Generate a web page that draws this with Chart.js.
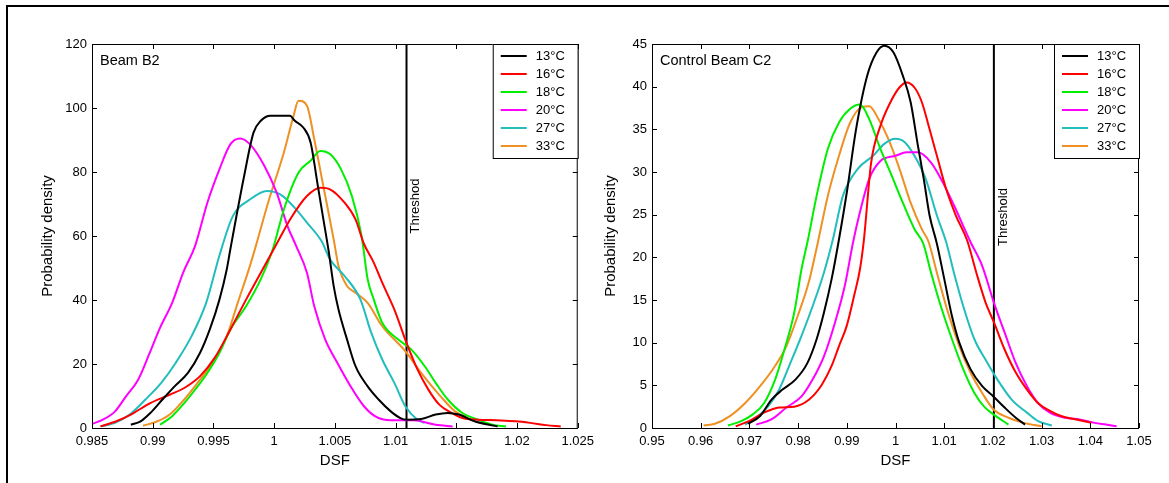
<!DOCTYPE html>
<html>
<head>
<meta charset="utf-8">
<title>DSF probability density</title>
<script src="https://cdn.jsdelivr.net/npm/chart.js@4.4.1/dist/chart.umd.min.js"></script>
<style>
  html, body { margin: 0; padding: 0; background: #fff; }
  #page { position: relative; width: 1169px; height: 483px; overflow: hidden; }
  #frame { position: absolute; left: 6px; top: 5px; width: 1200px; height: 500px;
           border-left: 2px solid #000; border-top: 2px solid #000; }
  #c1 { position: absolute; left: 0; top: 0; }
  #c2 { position: absolute; left: 600px; top: 0; }
</style>
</head>
<body>
<div id="page">
  <div id="frame"></div>
  <canvas id="c1" width="600" height="483"></canvas>
  <canvas id="c2" width="569" height="483"></canvas>
</div>
<script>
// series labels and colours
var temps = ['13°C', '16°C', '18°C', '20°C', '27°C', '33°C'];
var colors = ['#000000', '#ff0000', '#00ee00', '#ff00ff', '#22bdbd', '#ee9022'];

// ---- Beam B2 : [DSF, density] ----
var b2_13 = [[0.9882,1.0],[0.9890,2.1],[0.9898,4.7],[0.9908,8.9],[0.9918,13],[0.9929,17.2],[0.9939,23.5],[0.9947,30.8],[0.9955,40.2],[0.9961,49.6],[0.9964,56],[0.9975,78.2],[0.9983,92.3],[0.9989,96],[0.9997,97.6],[1.0013,97.6],[1.0017,96],[1.0024,93.9],[1.0030,89.2],[1.0036,75.6],[1.0041,64.2],[1.0045,55],[1.0049,44.4],[1.0053,37],[1.0060,27.7],[1.0067,19.3],[1.0077,13],[1.0086,8.9],[1.0096,5.2],[1.0104,3.1],[1.0109,2.6],[1.0121,2.8],[1.0133,4.2],[1.0143,4.7],[1.0152,4.2],[1.0165,2.1],[1.0177,1.0],[1.0184,0.5]];
var b2_16 = [[0.9857,0.5],[0.9870,2.1],[0.9882,4.2],[0.9898,7.8],[0.9914,10.4],[0.9926,12.5],[0.9939,16.2],[0.9951,21.9],[0.9964,30.8],[0.9977,40.2],[0.9989,48.5],[1.0002,57.5],[1.0014,65.7],[1.0027,72.5],[1.0038,75.1],[1.0046,74.6],[1.0058,70.4],[1.0067,65.2],[1.0074,57.5],[1.0082,51.7],[1.0089,45.4],[1.0099,37],[1.0109,26.6],[1.0118,18.3],[1.0127,12],[1.0136,7.3],[1.0146,4.7],[1.0155,3.1],[1.0168,2.6],[1.0183,2.4],[1.0199,2.1],[1.0211,1.6],[1.0224,0.9],[1.0236,0.5]];
var b2_18 = [[0.9906,1.0],[0.9916,3.7],[0.9926,7.8],[0.9936,12.5],[0.9945,17.2],[0.9955,23.5],[0.9964,30.8],[0.9977,38.1],[0.9989,46.5],[0.9999,56],[1.0008,68.3],[1.0020,79.8],[1.0030,83.5],[1.0038,86.6],[1.0046,85.6],[1.0055,80.9],[1.0064,72.5],[1.0072,60],[1.0077,46.5],[1.0082,40.2],[1.0089,32.9],[1.0102,27.7],[1.0113,24.5],[1.0124,19.3],[1.0133,14.1],[1.0143,8.9],[1.0155,4.7],[1.0168,2.6],[1.0180,1.0],[1.0191,0.5]];
var b2_20 = [[0.9850,1.3],[0.9859,2.6],[0.9869,5.2],[0.9878,9.9],[0.9888,15.1],[0.9897,23],[0.9906,31.3],[0.9916,39.1],[0.9925,48.5],[0.9935,57],[0.9945,70.4],[0.9955,80.9],[0.9964,88.7],[0.9972,90.5],[0.9980,88.7],[0.9992,81.9],[1.0002,73.6],[1.0011,63.1],[1.0018,57],[1.0027,48.5],[1.0033,38.1],[1.0042,27.7],[1.0052,20.4],[1.0063,13],[1.0074,6.8],[1.0083,3.7],[1.0096,2.4],[1.0115,2.4],[1.0133,1.0],[1.0147,0.5]];
var b2_27 = [[0.9857,0.5],[0.9869,1.6],[0.9881,4.2],[0.9894,8.9],[0.9907,14.1],[0.9919,20.4],[0.9932,28.7],[0.9944,39.1],[0.9955,54],[0.9966,66.2],[0.9980,71.4],[0.9994,74.1],[1.0005,73],[1.0017,68.8],[1.0027,64.2],[1.0039,58.4],[1.0046,52.7],[1.0058,47.5],[1.0071,40.2],[1.0080,29.7],[1.0089,21.4],[1.0099,14.1],[1.0108,6.8],[1.0118,2.6],[1.0124,1.6]];
var b2_33 = [[0.9892,0.7],[0.9904,2.1],[0.9914,4.2],[0.9926,8.9],[0.9939,15.1],[0.9951,21.4],[0.9961,28.7],[0.9970,39.1],[0.9980,50.6],[0.9985,57],[0.9995,70.4],[1.0008,86.1],[1.0016,97.6],[1.0020,102.3],[1.0027,100.7],[1.0033,90.3],[1.0041,74.6],[1.0049,59],[1.0053,50.6],[1.0060,44.4],[1.0067,42.3],[1.0077,39.1],[1.0089,31.8],[1.0108,24],[1.0121,17.2],[1.0137,9.9],[1.0149,5.2],[1.0162,2.6]];

// ---- Control Beam C2 ----
var c2_13 = [[0.9697,0.5],[0.9722,1.4],[0.9745,3.3],[0.9768,4.5],[0.9795,5.7],[0.9819,7.6],[0.9838,10.4],[0.9853,13.5],[0.9869,17.5],[0.9883,21.8],[0.9900,27.6],[0.9919,35],[0.9942,41.3],[0.9961,44],[0.9977,44.8],[0.9996,44],[1.0015,41.3],[1.0031,38.2],[1.0046,33.1],[1.0058,29.2],[1.0070,24.9],[1.0085,21.6],[1.0100,17.5],[1.0116,13.1],[1.0131,10],[1.0154,6.9],[1.0178,4.9],[1.0201,3.7],[1.0224,2.4],[1.0247,1.2],[1.0266,0.4]];
var c2_16 = [[0.9672,0.2],[0.9699,0.8],[0.9730,1.8],[0.9761,2.4],[0.9792,2.5],[0.9822,3.3],[0.9849,5.1],[0.9869,7.3],[0.9884,9.6],[0.9900,12],[0.9915,15.5],[0.9927,18.6],[0.9935,22],[0.9950,31.1],[0.9969,35.4],[0.9988,38],[1.0008,39.9],[1.0023,40.5],[1.0039,39.9],[1.0054,38.2],[1.0070,35],[1.0085,31.9],[1.0104,28],[1.0124,24.9],[1.0147,22],[1.0166,18.2],[1.0185,14.7],[1.0202,12.4],[1.0224,9.2],[1.0247,6.5],[1.0270,4.5],[1.0293,2.9],[1.0317,2],[1.0340,1.4],[1.0371,1.0],[1.0402,0.6]];
var c2_18 = [[0.9656,0.3],[0.9683,0.8],[0.9707,1.6],[0.9730,2.9],[0.9753,5.7],[0.9772,9.2],[0.9792,13.5],[0.9807,18.6],[0.9820,22],[0.9838,27.2],[0.9861,32.7],[0.9884,35.8],[0.9907,37.4],[0.9927,37.9],[0.9946,36.2],[0.9969,32.7],[0.9992,29.6],[1.0015,26.4],[1.0039,23.3],[1.0057,21.6],[1.0073,18.2],[1.0093,14.3],[1.0116,10.4],[1.0139,6.9],[1.0162,4.1],[1.0182,2.5],[1.0201,1.6],[1.0232,0.4]];
var c2_20 = [[0.9714,0.4],[0.9745,1],[0.9776,2.4],[0.9807,3.7],[0.9830,5.7],[0.9853,8.4],[0.9876,12.4],[0.9896,16.7],[0.9913,21.8],[0.9927,25.3],[0.9946,29.2],[0.9969,31.3],[1.0000,31.9],[1.0023,32.3],[1.0046,32.3],[1.0073,31.1],[1.0097,28.8],[1.0120,26.1],[1.0154,21.8],[1.0178,19],[1.0202,14.7],[1.0224,11.2],[1.0247,7.6],[1.0270,4.9],[1.0293,2.9],[1.0317,1.8],[1.0348,1.2],[1.0378,1],[1.0409,0.6],[1.0432,0.4],[1.0454,0.2]];
var c2_27 = [[0.9691,0.4],[0.9714,1.2],[0.9738,2.5],[0.9761,4.5],[0.9784,7.6],[0.9807,10.8],[0.9830,14.3],[0.9853,18.2],[0.9871,22],[0.9892,27.2],[0.9923,30.4],[0.9954,31.9],[0.9977,33.3],[1.0000,33.9],[1.0019,33.5],[1.0039,31.9],[1.0062,29.2],[1.0085,24.9],[1.0104,21.8],[1.0120,18.2],[1.0139,14.3],[1.0162,10.4],[1.0185,8],[1.0209,5.7],[1.0239,3.3],[1.0270,1.8],[1.0293,0.8],[1.0321,0.3]];
var c2_33 = [[0.9606,0.3],[0.9629,0.5],[0.9660,1.4],[0.9691,2.9],[0.9722,4.9],[0.9753,7.3],[0.9776,9.6],[0.9799,13.1],[0.9822,17.1],[0.9840,21.6],[0.9861,27.2],[0.9884,31.9],[0.9907,35.8],[0.9931,37.6],[0.9946,37.7],[0.9965,36.2],[0.9985,33.9],[1.0008,30.4],[1.0031,26.4],[1.0054,23.3],[1.0068,21.8],[1.0085,18.2],[1.0108,13.5],[1.0131,9.6],[1.0154,6.5],[1.0178,4.1],[1.0201,2.2],[1.0232,1.2],[1.0263,0.6],[1.0300,0.2]];

// thresholds (DSF) and axis ranges
var b2_threshold = 1.0109;
var c2_threshold = 1.0202;
var b2_xticks = [0.985, 1.025, 0.005];
var b2_yticks = [0, 120, 20];
var c2_xticks = [0.95, 1.05, 0.01];
var c2_yticks = [0, 45, 5];

var FONT = '"Liberation Sans", Arial, sans-serif';
Chart.defaults.font.family = FONT;
Chart.defaults.font.size = 13;
Chart.defaults.color = '#000';

/**
 * Draws the MATLAB-like axes box, inward ticks, legend box and text labels.
 */
var extras = {
  id: 'extras',
  afterDatasetsDraw: function(chart, args, o) {
    var ctx = chart.ctx;
    var a = chart.chartArea;
    var xs = chart.scales.x, ys = chart.scales.y;
    var TL = 5;
    ctx.save();
    ctx.strokeStyle = '#000';
    ctx.lineWidth = 1;
    ctx.strokeRect(a.left + 0.5, a.top + 0.5, a.right - a.left - 1, a.bottom - a.top);
    ctx.beginPath();
    xs.ticks.forEach(function(t) {
      var px = Math.round(xs.getPixelForValue(t.value)) + 0.5;
      ctx.moveTo(px, a.bottom); ctx.lineTo(px, a.bottom - TL);
      ctx.moveTo(px, a.top); ctx.lineTo(px, a.top + TL);
    });
    ys.ticks.forEach(function(t) {
      var py = Math.round(ys.getPixelForValue(t.value)) + 0.5;
      ctx.moveTo(a.left, py); ctx.lineTo(a.left + TL, py);
      ctx.moveTo(a.right, py); ctx.lineTo(a.right - TL, py);
    });
    ctx.stroke();

    ctx.fillStyle = '#000';

    // panel label
    ctx.font = '14.5px ' + FONT;
    ctx.textAlign = 'left';
    ctx.textBaseline = 'middle';
    ctx.fillText(o.label, a.left + 8, a.top + 17);

    // threshold text, rotated
    ctx.font = '13px ' + FONT;
    var tx = xs.getPixelForValue(o.threshold);
    ctx.save();
    ctx.translate(tx + o.textDx, o.textY);
    ctx.rotate(-Math.PI / 2);
    ctx.textAlign = 'center';
    ctx.fillText(o.thresholdText, 0, 0);
    ctx.restore();

    // legend
    var lw = 85, lh = 114;
    var lx = a.right - lw, ly = a.top;
    ctx.fillStyle = '#fff';
    ctx.fillRect(lx, ly, lw, lh);
    ctx.strokeRect(lx + 0.5, ly + 0.5, lw, lh);
    for (var i = 0; i < temps.length; i++) {
      var ds = chart.data.datasets[i];
      var yy = ly + 12 + i * 18;
      ctx.strokeStyle = ds.borderColor;
      ctx.lineWidth = 2;
      ctx.beginPath();
      ctx.moveTo(lx + 8, yy); ctx.lineTo(lx + 34, yy);
      ctx.stroke();
      ctx.fillStyle = '#000';
      ctx.textAlign = 'left';
      ctx.fillText(ds.label, lx + 43, yy);
    }
    ctx.restore();
  }
};

function makeChart(id, series, threshold, xr, yr, yAxisW, rightPad, yTitlePad, ex) {
  var datasets = [];
  for (let i = 0; i < series.length; i++) {
    datasets.push({
      label: temps[i],
      data: series[i].map(function(p) { return {x: p[0], y: p[1]}; }),
      borderColor: colors[i],
      borderWidth: 2,
      pointRadius: 0,
      fill: false,
      cubicInterpolationMode: 'monotone'
    });
  }
  // vertical threshold line
  datasets.push({
    label: 'Threshold',
    data: [{x: threshold, y: yr[0]}, {x: threshold, y: yr[1]}],
    borderColor: '#000',
    borderWidth: 2,
    pointRadius: 0,
    fill: false
  });
  ex.threshold = threshold;

  return new Chart(document.getElementById(id), {
    type: 'line',
    data: {datasets: datasets},
    options: {
      responsive: false,
      animation: false,
      events: [],
      layout: {padding: {top: 44, right: rightPad, left: 0, bottom: 0}},
      plugins: {legend: {display: false}, tooltip: {enabled: false}, extras: ex},
      scales: {
        x: {
          type: 'linear', min: xr[0], max: xr[1],
          grid: {display: false, drawTicks: false},
          border: {display: false},
          ticks: {stepSize: xr[2], autoSkip: false, maxRotation: 0, padding: 6,
                  callback: function(v) { return String(+v.toFixed(3)); }},
          title: {display: true, text: 'DSF', font: {size: 15}, padding: {top: 0, bottom: 13}},
          afterFit: function(s) { s.height = 55; }
        },
        y: {
          type: 'linear', min: yr[0], max: yr[1],
          grid: {display: false, drawTicks: false},
          border: {display: false},
          ticks: {stepSize: yr[2], padding: 5},
          title: {display: true, text: 'Probability density', font: {size: 15},
                  padding: {top: yTitlePad, bottom: 0}},
          afterFit: function(s) { s.width = yAxisW; }
        }
      }
    },
    plugins: [extras]
  });
}

makeChart('c1', [b2_13, b2_16, b2_18, b2_20, b2_27, b2_33], b2_threshold,
  b2_xticks, b2_yticks, 92, 22, 39,
  {label: 'Beam B2', thresholdText: 'Threshod', textDx: 9, textY: 206});

makeChart('c2', [c2_13, c2_16, c2_18, c2_20, c2_27, c2_33], c2_threshold,
  c2_xticks, c2_yticks, 52, 30, 2,
  {label: 'Control Beam C2', thresholdText: 'Threshold', textDx: 10, textY: 217});
</script>
</body>
</html>
